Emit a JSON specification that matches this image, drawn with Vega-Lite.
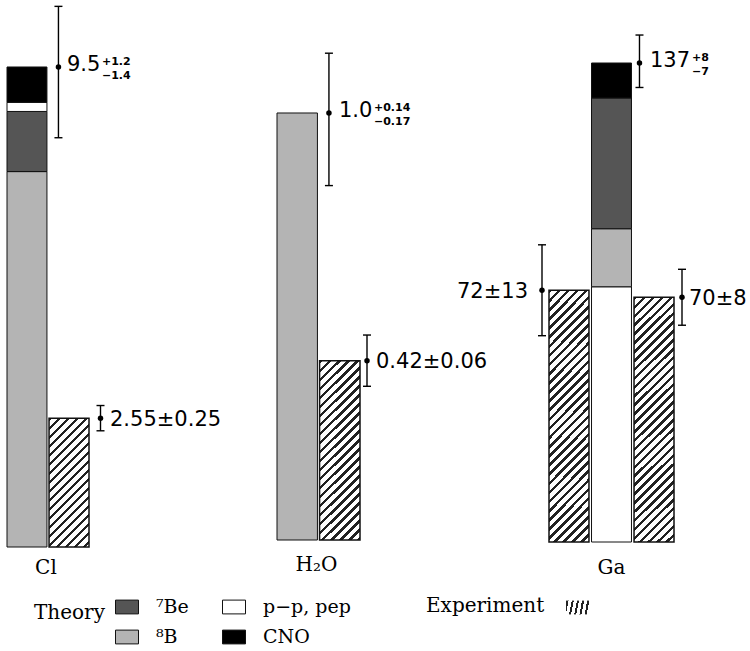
{
  "$schema": "https://vega.github.io/schema/vega-lite/v6.json",
  "padding": 0,
  "spacing": 0,
  "bounds": "flush",
  "background": "white",
  "config": {
    "view": {"stroke": null},
    "axis": {"disable": true},
    "style": {
      "num": {"font": "DejaVu Sans", "fontSize": 21, "align": "left", "baseline": "middle", "color": "#000"},
      "sup": {"font": "DejaVu Sans", "fontSize": 11, "fontWeight": "bold", "align": "left", "baseline": "alphabetic", "color": "#000"},
      "grp": {"font": "DejaVu Serif", "fontSize": 20, "align": "center", "baseline": "middle", "color": "#000"}
    }
  },
  "datasets": {
    "stack": [
      {"group": "Cl", "column": "Theory", "source": "⁸B", "snu": 7.43, "stack": 1},
      {"group": "Cl", "column": "Theory", "source": "⁷Be", "snu": 1.19, "stack": 2},
      {"group": "Cl", "column": "Theory", "source": "p−p, pep", "snu": 0.18, "stack": 3},
      {"group": "Cl", "column": "Theory", "source": "CNO", "snu": 0.7, "stack": 4},
      {"group": "H₂O", "column": "Theory", "source": "⁸B", "snu": 1.0, "stack": 1},
      {"group": "Ga", "column": "Theory", "source": "p−p, pep", "snu": 73.0, "stack": 1},
      {"group": "Ga", "column": "Theory", "source": "⁸B", "snu": 16.6, "stack": 2},
      {"group": "Ga", "column": "Theory", "source": "⁷Be", "snu": 37.4, "stack": 3},
      {"group": "Ga", "column": "Theory", "source": "CNO", "snu": 10.0, "stack": 4}
    ],
    "points": [
      {"group": "Cl", "column": "Theory", "kind": "Theory", "value": 9.5, "lo": 8.1, "hi": 10.7, "label": "9.5", "up": "+1.2", "down": "−1.4"},
      {"group": "Cl", "column": "Homestake", "kind": "Experiment", "value": 2.55, "lo": 2.3, "hi": 2.8, "label": "2.55±0.25"},
      {"group": "H₂O", "column": "Theory", "kind": "Theory", "value": 1.0, "lo": 0.83, "hi": 1.14, "label": "1.0", "up": "+0.14", "down": "−0.17"},
      {"group": "H₂O", "column": "Kamiokande", "kind": "Experiment", "value": 0.42, "lo": 0.36, "hi": 0.48, "label": "0.42±0.06"},
      {"group": "Ga", "column": "Theory", "kind": "Theory", "value": 137, "lo": 130, "hi": 145, "label": "137", "up": "+8", "down": "−7"},
      {"group": "Ga", "column": "GALLEX", "kind": "Experiment", "value": 72, "lo": 59, "hi": 85, "label": "72±13"},
      {"group": "Ga", "column": "SAGE", "kind": "Experiment", "value": 70, "lo": 62, "hi": 78, "label": "70±8"}
    ]
  },
  "resolve": {
    "scale": {"x": "independent", "y": "independent", "fill": "shared", "opacity": "shared"},
    "legend": {"fill": "shared", "opacity": "shared"}
  },
  "hconcat": [
    {
      "width": 250,
      "height": 547,
      "layer": [
        {
          "data": {"name": "stack"},
          "transform": [{"filter": "datum.group==='Cl'"}],
          "mark": {"type": "bar", "stroke": "#111", "strokeWidth": 1},
          "encoding": {
            "x": {"field": "column", "type": "nominal", "axis": null, "scale": {"domain": ["Theory", "Homestake"], "range": [7, 89], "paddingInner": 0.05, "paddingOuter": 0}},
            "y": {"field": "snu", "type": "quantitative", "stack": "zero", "axis": null, "scale": {"domain": [0, 10.826], "range": [547, 0], "nice": false}},
            "fill": {
              "field": "source", "type": "nominal",
              "scale": {"domain": ["⁷Be", "p−p, pep", "⁸B", "CNO"], "range": ["#555555", "#ffffff", "#b4b4b4", "#000000"]},
              "legend": {
                "title": "Theory", "orient": "none", "legendX": 34, "legendY": 595,
                "direction": "horizontal", "columns": 2, "titleOrient": "left", "titleAnchor": "start", "titleBaseline": "line-top", "titleLineHeight": 36,
                "titleFont": "DejaVu Serif", "titleFontSize": 20, "titleFontWeight": "normal", "titleColor": "#000", "titlePadding": 10,
                "labelFont": "DejaVu Serif", "labelFontSize": 19, "labelColor": "#000", "labelOffset": 17,
                "symbolType": "M-1,-0.6H1V0.6H-1Z", "symbolSize": 529, "symbolStrokeColor": "#111", "symbolStrokeWidth": 1, "symbolOpacity": 1,
                "columnPadding": 31, "rowPadding": 8
              }
            },
            "order": {"field": "stack", "type": "quantitative"}
          }
        },
        {
          "data": {"name": "points"},
          "transform": [{"filter": "datum.group==='Cl' && datum.kind==='Experiment'"}],
          "mark": {"type": "bar", "stroke": "#111", "strokeWidth": 1.5,
            "fill": {"gradient": "linear", "x1": 0, "y1": 0, "x2": 0.653, "y2": 2.103, "stops": [
{"offset":0,"color":"#222"},{"offset":0.0121,"color":"#222"},{"offset":0.0121,"color":"#fff"},
{"offset":0.0303,"color":"#fff"},{"offset":0.0303,"color":"#222"},{"offset":0.0424,"color":"#222"},{"offset":0.0424,"color":"#fff"},
{"offset":0.0606,"color":"#fff"},{"offset":0.0606,"color":"#222"},{"offset":0.0727,"color":"#222"},{"offset":0.0727,"color":"#fff"},
{"offset":0.0909,"color":"#fff"},{"offset":0.0909,"color":"#222"},{"offset":0.103,"color":"#222"},{"offset":0.103,"color":"#fff"},
{"offset":0.1212,"color":"#fff"},{"offset":0.1212,"color":"#222"},{"offset":0.1333,"color":"#222"},{"offset":0.1333,"color":"#fff"},
{"offset":0.1515,"color":"#fff"},{"offset":0.1515,"color":"#222"},{"offset":0.1636,"color":"#222"},{"offset":0.1636,"color":"#fff"},
{"offset":0.1818,"color":"#fff"},{"offset":0.1818,"color":"#222"},{"offset":0.1939,"color":"#222"},{"offset":0.1939,"color":"#fff"},
{"offset":0.2121,"color":"#fff"},{"offset":0.2121,"color":"#222"},{"offset":0.2242,"color":"#222"},{"offset":0.2242,"color":"#fff"},
{"offset":0.2424,"color":"#fff"},{"offset":0.2424,"color":"#222"},{"offset":0.2545,"color":"#222"},{"offset":0.2545,"color":"#fff"},
{"offset":0.2727,"color":"#fff"},{"offset":0.2727,"color":"#222"},{"offset":0.2848,"color":"#222"},{"offset":0.2848,"color":"#fff"},
{"offset":0.303,"color":"#fff"},{"offset":0.303,"color":"#222"},{"offset":0.3151,"color":"#222"},{"offset":0.3151,"color":"#fff"},
{"offset":0.3333,"color":"#fff"},{"offset":0.3333,"color":"#222"},{"offset":0.3454,"color":"#222"},{"offset":0.3454,"color":"#fff"},
{"offset":0.3636,"color":"#fff"},{"offset":0.3636,"color":"#222"},{"offset":0.3757,"color":"#222"},{"offset":0.3757,"color":"#fff"},
{"offset":0.3939,"color":"#fff"},{"offset":0.3939,"color":"#222"},{"offset":0.406,"color":"#222"},{"offset":0.406,"color":"#fff"},
{"offset":0.4242,"color":"#fff"},{"offset":0.4242,"color":"#222"},{"offset":0.4363,"color":"#222"},{"offset":0.4363,"color":"#fff"},
{"offset":0.4545,"color":"#fff"},{"offset":0.4545,"color":"#222"},{"offset":0.4666,"color":"#222"},{"offset":0.4666,"color":"#fff"},
{"offset":0.4848,"color":"#fff"},{"offset":0.4848,"color":"#222"},{"offset":0.4969,"color":"#222"},{"offset":0.4969,"color":"#fff"},
{"offset":0.5152,"color":"#fff"},{"offset":0.5152,"color":"#222"},{"offset":0.5273,"color":"#222"},{"offset":0.5273,"color":"#fff"},
{"offset":0.5455,"color":"#fff"},{"offset":0.5455,"color":"#222"},{"offset":0.5576,"color":"#222"},{"offset":0.5576,"color":"#fff"},
{"offset":0.5758,"color":"#fff"},{"offset":0.5758,"color":"#222"},{"offset":0.5879,"color":"#222"},{"offset":0.5879,"color":"#fff"}
            ]}},
          "encoding": {
            "x": {"field": "column", "type": "nominal"},
            "y": {"field": "value", "type": "quantitative"},
            "opacity": {
              "field": "kind", "type": "nominal",
              "scale": {"domain": ["Experiment"], "range": [1, 1]},
              "legend": {
                "title": "Experiment", "orient": "none", "legendX": 426, "legendY": 595,
                "titleOrient": "left", "titleFont": "DejaVu Serif", "titleFontSize": 20, "titleFontWeight": "normal", "titleColor": "#000", "titlePadding": 20,
                "labelExpr": "''", "labelOffset": 0,
                "symbolType": "M-1,-0.6H1V0.6H-1Z", "symbolSize": 529, "symbolStrokeColor": "#111", "symbolStrokeWidth": 1.5, "symbolFillColor": "#888", "symbolOpacity": 1,
                "encode": {"symbols": {
                  "stroke": {"value": "#111"},
                  "strokeWidth": {"value": 1.5},
                  "fill": {"value": {"gradient": "linear", "x1": 0, "y1": 0, "x2": 9.495, "y2": 5.697, "stops": [
{"offset":0,"color":"#222"},{"offset":0.0121,"color":"#222"},{"offset":0.0121,"color":"#fff"},
{"offset":0.0303,"color":"#fff"},{"offset":0.0303,"color":"#222"},{"offset":0.0424,"color":"#222"},{"offset":0.0424,"color":"#fff"},
{"offset":0.0606,"color":"#fff"},{"offset":0.0606,"color":"#222"},{"offset":0.0727,"color":"#222"},{"offset":0.0727,"color":"#fff"},
{"offset":0.0909,"color":"#fff"},{"offset":0.0909,"color":"#222"},{"offset":0.103,"color":"#222"},{"offset":0.103,"color":"#fff"},
{"offset":0.1212,"color":"#fff"},{"offset":0.1212,"color":"#222"},{"offset":0.1333,"color":"#222"},{"offset":0.1333,"color":"#fff"}
                ]}}}}
              }
            }
          }
        },
        {
          "data": {"name": "points"},
          "transform": [{"filter": "datum.group==='Cl'"}],
          "mark": {"type": "rule", "color": "#000", "strokeWidth": 1.4, "xOffset": 11.5},
          "encoding": {"x": {"field": "column", "type": "nominal", "bandPosition": 1}, "y": {"field": "lo", "type": "quantitative"}, "y2": {"field": "hi"}}
        },
        {
          "data": {"name": "points"},
          "transform": [{"filter": "datum.group==='Cl'"}, {"fold": ["lo", "hi"], "as": ["end", "cap"]}],
          "mark": {"type": "point", "shape": "M-1,0H1", "size": 64, "filled": false, "color": "#000", "strokeWidth": 1.4, "opacity": 1, "xOffset": 11.5},
          "encoding": {"x": {"field": "column", "type": "nominal", "bandPosition": 1}, "y": {"field": "cap", "type": "quantitative"}}
        },
        {
          "data": {"name": "points"},
          "transform": [{"filter": "datum.group==='Cl'"}],
          "mark": {"type": "point", "shape": "circle", "size": 30, "filled": true, "color": "#000", "opacity": 1, "xOffset": 11.5},
          "encoding": {"x": {"field": "column", "type": "nominal", "bandPosition": 1}, "y": {"field": "value", "type": "quantitative"}}
        },
        {
          "data": {"name": "points"},
          "transform": [{"filter": "datum.group==='Cl' && datum.kind==='Theory'"}],
          "mark": {"type": "text", "style": "num", "xOffset": 20, "dy": -2},
          "encoding": {"x": {"field": "column", "type": "nominal", "bandPosition": 1}, "y": {"field": "value", "type": "quantitative"}, "text": {"field": "label", "type": "nominal"}}
        },
        {
          "data": {"name": "points"},
          "transform": [{"filter": "datum.group==='Cl' && datum.kind==='Experiment'"}],
          "mark": {"type": "text", "style": "num", "xOffset": 21, "dy": 1.5},
          "encoding": {"x": {"field": "column", "type": "nominal", "bandPosition": 1}, "y": {"field": "value", "type": "quantitative"}, "text": {"field": "label", "type": "nominal"}}
        },
        {
          "data": {"name": "points"},
          "transform": [{"filter": "datum.group==='Cl' && datum.kind==='Theory'"}],
          "mark": {"type": "text", "style": "sup", "xOffset": 55, "dy": -2},
          "encoding": {"x": {"field": "column", "type": "nominal", "bandPosition": 1}, "y": {"field": "value", "type": "quantitative"}, "text": {"field": "up", "type": "nominal"}}
        },
        {
          "data": {"name": "points"},
          "transform": [{"filter": "datum.group==='Cl' && datum.kind==='Theory'"}],
          "mark": {"type": "text", "style": "sup", "xOffset": 55, "dy": 12},
          "encoding": {"x": {"field": "column", "type": "nominal", "bandPosition": 1}, "y": {"field": "value", "type": "quantitative"}, "text": {"field": "down", "type": "nominal"}}
        },
        {
          "data": {"name": "points"},
          "transform": [{"filter": "datum.group==='Cl' && datum.kind==='Theory'"}],
          "mark": {"type": "text", "style": "grp", "xOffset": -1, "dy": 21},
          "encoding": {"x": {"field": "column", "type": "nominal", "bandPosition": 1}, "y": {"datum": 0, "type": "quantitative"}, "text": {"field": "group", "type": "nominal"}}
        }
      ]
    },
    {
      "width": 270,
      "height": 547,
      "layer": [
        {
          "data": {"name": "stack"},
          "transform": [{"filter": "datum.group==='H₂O'"}],
          "mark": {"type": "bar", "stroke": "#111", "strokeWidth": 1},
          "encoding": {
            "x": {"field": "column", "type": "nominal", "axis": null, "scale": {"domain": ["Theory", "Kamiokande"], "range": [27, 110], "paddingInner": 0.05, "paddingOuter": 0}},
            "y": {"field": "snu", "type": "quantitative", "stack": "zero", "axis": null, "scale": {"domain": [0, 1.2646], "range": [540, 0], "nice": false}},
            "fill": {"field": "source", "type": "nominal", "legend": null},
            "order": {"field": "stack", "type": "quantitative"}
          }
        },
        {
          "data": {"name": "points"},
          "transform": [{"filter": "datum.group==='H₂O' && datum.kind==='Experiment'"}],
          "mark": {"type": "bar", "stroke": "#111", "strokeWidth": 1.5,
            "fill": {"gradient": "linear", "x1": 0, "y1": 0, "x2": 0.352, "y2": 1.578, "stops": [
{"offset":0,"color":"#222"},{"offset":0.0121,"color":"#222"},{"offset":0.0121,"color":"#fff"},
{"offset":0.0303,"color":"#fff"},{"offset":0.0303,"color":"#222"},{"offset":0.0424,"color":"#222"},{"offset":0.0424,"color":"#fff"},
{"offset":0.0606,"color":"#fff"},{"offset":0.0606,"color":"#222"},{"offset":0.0727,"color":"#222"},{"offset":0.0727,"color":"#fff"},
{"offset":0.0909,"color":"#fff"},{"offset":0.0909,"color":"#222"},{"offset":0.103,"color":"#222"},{"offset":0.103,"color":"#fff"},
{"offset":0.1212,"color":"#fff"},{"offset":0.1212,"color":"#222"},{"offset":0.1333,"color":"#222"},{"offset":0.1333,"color":"#fff"},
{"offset":0.1515,"color":"#fff"},{"offset":0.1515,"color":"#222"},{"offset":0.1636,"color":"#222"},{"offset":0.1636,"color":"#fff"},
{"offset":0.1818,"color":"#fff"},{"offset":0.1818,"color":"#222"},{"offset":0.1939,"color":"#222"},{"offset":0.1939,"color":"#fff"},
{"offset":0.2121,"color":"#fff"},{"offset":0.2121,"color":"#222"},{"offset":0.2242,"color":"#222"},{"offset":0.2242,"color":"#fff"},
{"offset":0.2424,"color":"#fff"},{"offset":0.2424,"color":"#222"},{"offset":0.2545,"color":"#222"},{"offset":0.2545,"color":"#fff"},
{"offset":0.2727,"color":"#fff"},{"offset":0.2727,"color":"#222"},{"offset":0.2848,"color":"#222"},{"offset":0.2848,"color":"#fff"},
{"offset":0.303,"color":"#fff"},{"offset":0.303,"color":"#222"},{"offset":0.3151,"color":"#222"},{"offset":0.3151,"color":"#fff"},
{"offset":0.3333,"color":"#fff"},{"offset":0.3333,"color":"#222"},{"offset":0.3454,"color":"#222"},{"offset":0.3454,"color":"#fff"},
{"offset":0.3636,"color":"#fff"},{"offset":0.3636,"color":"#222"},{"offset":0.3757,"color":"#222"},{"offset":0.3757,"color":"#fff"},
{"offset":0.3939,"color":"#fff"},{"offset":0.3939,"color":"#222"},{"offset":0.406,"color":"#222"},{"offset":0.406,"color":"#fff"},
{"offset":0.4242,"color":"#fff"},{"offset":0.4242,"color":"#222"},{"offset":0.4363,"color":"#222"},{"offset":0.4363,"color":"#fff"},
{"offset":0.4545,"color":"#fff"},{"offset":0.4545,"color":"#222"},{"offset":0.4666,"color":"#222"},{"offset":0.4666,"color":"#fff"},
{"offset":0.4848,"color":"#fff"},{"offset":0.4848,"color":"#222"},{"offset":0.4969,"color":"#222"},{"offset":0.4969,"color":"#fff"},
{"offset":0.5152,"color":"#fff"},{"offset":0.5152,"color":"#222"},{"offset":0.5273,"color":"#222"},{"offset":0.5273,"color":"#fff"},
{"offset":0.5455,"color":"#fff"},{"offset":0.5455,"color":"#222"},{"offset":0.5576,"color":"#222"},{"offset":0.5576,"color":"#fff"},
{"offset":0.5758,"color":"#fff"},{"offset":0.5758,"color":"#222"},{"offset":0.5879,"color":"#222"},{"offset":0.5879,"color":"#fff"},
{"offset":0.6061,"color":"#fff"},{"offset":0.6061,"color":"#222"},{"offset":0.6182,"color":"#222"},{"offset":0.6182,"color":"#fff"},
{"offset":0.6364,"color":"#fff"},{"offset":0.6364,"color":"#222"},{"offset":0.6485,"color":"#222"},{"offset":0.6485,"color":"#fff"},
{"offset":0.6667,"color":"#fff"},{"offset":0.6667,"color":"#222"},{"offset":0.6788,"color":"#222"},{"offset":0.6788,"color":"#fff"},
{"offset":0.697,"color":"#fff"},{"offset":0.697,"color":"#222"},{"offset":0.7091,"color":"#222"},{"offset":0.7091,"color":"#fff"},
{"offset":0.7273,"color":"#fff"},{"offset":0.7273,"color":"#222"},{"offset":0.7394,"color":"#222"},{"offset":0.7394,"color":"#fff"},
{"offset":0.7576,"color":"#fff"},{"offset":0.7576,"color":"#222"},{"offset":0.7697,"color":"#222"},{"offset":0.7697,"color":"#fff"}
            ]}},
          "encoding": {
            "x": {"field": "column", "type": "nominal"},
            "y": {"field": "value", "type": "quantitative"},
            "opacity": {"field": "kind", "type": "nominal", "legend": null}
          }
        },
        {
          "data": {"name": "points"},
          "transform": [{"filter": "datum.group==='H₂O' && datum.kind==='Theory'"}],
          "mark": {"type": "rule", "color": "#000", "strokeWidth": 1.4, "xOffset": 11.5},
          "encoding": {"x": {"field": "column", "type": "nominal", "bandPosition": 1}, "y": {"field": "lo", "type": "quantitative"}, "y2": {"field": "hi"}}
        },
        {
          "data": {"name": "points"},
          "transform": [{"filter": "datum.group==='H₂O' && datum.kind==='Theory'"}, {"fold": ["lo", "hi"], "as": ["end", "cap"]}],
          "mark": {"type": "point", "shape": "M-1,0H1", "size": 64, "filled": false, "color": "#000", "strokeWidth": 1.4, "opacity": 1, "xOffset": 11.5},
          "encoding": {"x": {"field": "column", "type": "nominal", "bandPosition": 1}, "y": {"field": "cap", "type": "quantitative"}}
        },
        {
          "data": {"name": "points"},
          "transform": [{"filter": "datum.group==='H₂O' && datum.kind==='Theory'"}],
          "mark": {"type": "point", "shape": "circle", "size": 30, "filled": true, "color": "#000", "opacity": 1, "xOffset": 11.5},
          "encoding": {"x": {"field": "column", "type": "nominal", "bandPosition": 1}, "y": {"field": "value", "type": "quantitative"}}
        },
        {
          "data": {"name": "points"},
          "transform": [{"filter": "datum.group==='H₂O' && datum.kind==='Experiment'"}],
          "mark": {"type": "rule", "color": "#000", "strokeWidth": 1.4, "xOffset": 7},
          "encoding": {"x": {"field": "column", "type": "nominal", "bandPosition": 1}, "y": {"field": "lo", "type": "quantitative"}, "y2": {"field": "hi"}}
        },
        {
          "data": {"name": "points"},
          "transform": [{"filter": "datum.group==='H₂O' && datum.kind==='Experiment'"}, {"fold": ["lo", "hi"], "as": ["end", "cap"]}],
          "mark": {"type": "point", "shape": "M-1,0H1", "size": 64, "filled": false, "color": "#000", "strokeWidth": 1.4, "opacity": 1, "xOffset": 7},
          "encoding": {"x": {"field": "column", "type": "nominal", "bandPosition": 1}, "y": {"field": "cap", "type": "quantitative"}}
        },
        {
          "data": {"name": "points"},
          "transform": [{"filter": "datum.group==='H₂O' && datum.kind==='Experiment'"}],
          "mark": {"type": "point", "shape": "circle", "size": 30, "filled": true, "color": "#000", "opacity": 1, "xOffset": 7},
          "encoding": {"x": {"field": "column", "type": "nominal", "bandPosition": 1}, "y": {"field": "value", "type": "quantitative"}}
        },
        {
          "data": {"name": "points"},
          "transform": [{"filter": "datum.group==='H₂O' && datum.kind==='Theory'"}],
          "mark": {"type": "text", "style": "num", "xOffset": 21.5, "dy": -2},
          "encoding": {"x": {"field": "column", "type": "nominal", "bandPosition": 1}, "y": {"field": "value", "type": "quantitative"}, "text": {"field": "label", "type": "nominal"}}
        },
        {
          "data": {"name": "points"},
          "transform": [{"filter": "datum.group==='H₂O' && datum.kind==='Experiment'"}],
          "mark": {"type": "text", "style": "num", "xOffset": 16, "dy": 1.5},
          "encoding": {"x": {"field": "column", "type": "nominal", "bandPosition": 1}, "y": {"field": "value", "type": "quantitative"}, "text": {"field": "label", "type": "nominal"}}
        },
        {
          "data": {"name": "points"},
          "transform": [{"filter": "datum.group==='H₂O' && datum.kind==='Theory'"}],
          "mark": {"type": "text", "style": "sup", "xOffset": 56.5, "dy": -2},
          "encoding": {"x": {"field": "column", "type": "nominal", "bandPosition": 1}, "y": {"field": "value", "type": "quantitative"}, "text": {"field": "up", "type": "nominal"}}
        },
        {
          "data": {"name": "points"},
          "transform": [{"filter": "datum.group==='H₂O' && datum.kind==='Theory'"}],
          "mark": {"type": "text", "style": "sup", "xOffset": 56.5, "dy": 12},
          "encoding": {"x": {"field": "column", "type": "nominal", "bandPosition": 1}, "y": {"field": "value", "type": "quantitative"}, "text": {"field": "down", "type": "nominal"}}
        },
        {
          "data": {"name": "points"},
          "transform": [{"filter": "datum.group==='H₂O' && datum.kind==='Theory'"}],
          "mark": {"type": "text", "style": "grp", "xOffset": -1, "dy": 25},
          "encoding": {"x": {"field": "column", "type": "nominal", "bandPosition": 1}, "y": {"datum": 0, "type": "quantitative"}, "text": {"field": "group", "type": "nominal"}}
        }
      ]
    },
    {
      "width": 230,
      "height": 547,
      "layer": [
        {
          "data": {"name": "stack"},
          "transform": [{"filter": "datum.group==='Ga'"}],
          "mark": {"type": "bar", "stroke": "#111", "strokeWidth": 1},
          "encoding": {
            "x": {"field": "column", "type": "nominal", "axis": null, "scale": {"domain": ["GALLEX", "Theory", "SAGE"], "range": [29, 154], "paddingInner": 0.06, "paddingOuter": 0}},
            "y": {"field": "snu", "type": "quantitative", "stack": "zero", "axis": null, "scale": {"domain": [0, 155.02], "range": [542, 0], "nice": false}},
            "fill": {"field": "source", "type": "nominal", "legend": null},
            "order": {"field": "stack", "type": "quantitative"}
          }
        },
        {
          "data": {"name": "points"},
          "transform": [{"filter": "datum.group==='Ga' && datum.kind==='Experiment'"}],
          "mark": {"type": "bar", "stroke": "#111", "strokeWidth": 1.5,
            "fill": {"gradient": "linear", "x1": 0, "y1": 0, "x2": 0.1883, "y2": 1.167, "stops": [
{"offset":0,"color":"#222"},{"offset":0.0121,"color":"#222"},{"offset":0.0121,"color":"#fff"},
{"offset":0.0303,"color":"#fff"},{"offset":0.0303,"color":"#222"},{"offset":0.0424,"color":"#222"},{"offset":0.0424,"color":"#fff"},
{"offset":0.0606,"color":"#fff"},{"offset":0.0606,"color":"#222"},{"offset":0.0727,"color":"#222"},{"offset":0.0727,"color":"#fff"},
{"offset":0.0909,"color":"#fff"},{"offset":0.0909,"color":"#222"},{"offset":0.103,"color":"#222"},{"offset":0.103,"color":"#fff"},
{"offset":0.1212,"color":"#fff"},{"offset":0.1212,"color":"#222"},{"offset":0.1333,"color":"#222"},{"offset":0.1333,"color":"#fff"},
{"offset":0.1515,"color":"#fff"},{"offset":0.1515,"color":"#222"},{"offset":0.1636,"color":"#222"},{"offset":0.1636,"color":"#fff"},
{"offset":0.1818,"color":"#fff"},{"offset":0.1818,"color":"#222"},{"offset":0.1939,"color":"#222"},{"offset":0.1939,"color":"#fff"},
{"offset":0.2121,"color":"#fff"},{"offset":0.2121,"color":"#222"},{"offset":0.2242,"color":"#222"},{"offset":0.2242,"color":"#fff"},
{"offset":0.2424,"color":"#fff"},{"offset":0.2424,"color":"#222"},{"offset":0.2545,"color":"#222"},{"offset":0.2545,"color":"#fff"},
{"offset":0.2727,"color":"#fff"},{"offset":0.2727,"color":"#222"},{"offset":0.2848,"color":"#222"},{"offset":0.2848,"color":"#fff"},
{"offset":0.303,"color":"#fff"},{"offset":0.303,"color":"#222"},{"offset":0.3151,"color":"#222"},{"offset":0.3151,"color":"#fff"},
{"offset":0.3333,"color":"#fff"},{"offset":0.3333,"color":"#222"},{"offset":0.3454,"color":"#222"},{"offset":0.3454,"color":"#fff"},
{"offset":0.3636,"color":"#fff"},{"offset":0.3636,"color":"#222"},{"offset":0.3757,"color":"#222"},{"offset":0.3757,"color":"#fff"},
{"offset":0.3939,"color":"#fff"},{"offset":0.3939,"color":"#222"},{"offset":0.406,"color":"#222"},{"offset":0.406,"color":"#fff"},
{"offset":0.4242,"color":"#fff"},{"offset":0.4242,"color":"#222"},{"offset":0.4363,"color":"#222"},{"offset":0.4363,"color":"#fff"},
{"offset":0.4545,"color":"#fff"},{"offset":0.4545,"color":"#222"},{"offset":0.4666,"color":"#222"},{"offset":0.4666,"color":"#fff"},
{"offset":0.4848,"color":"#fff"},{"offset":0.4848,"color":"#222"},{"offset":0.4969,"color":"#222"},{"offset":0.4969,"color":"#fff"},
{"offset":0.5152,"color":"#fff"},{"offset":0.5152,"color":"#222"},{"offset":0.5273,"color":"#222"},{"offset":0.5273,"color":"#fff"},
{"offset":0.5455,"color":"#fff"},{"offset":0.5455,"color":"#222"},{"offset":0.5576,"color":"#222"},{"offset":0.5576,"color":"#fff"},
{"offset":0.5758,"color":"#fff"},{"offset":0.5758,"color":"#222"},{"offset":0.5879,"color":"#222"},{"offset":0.5879,"color":"#fff"},
{"offset":0.6061,"color":"#fff"},{"offset":0.6061,"color":"#222"},{"offset":0.6182,"color":"#222"},{"offset":0.6182,"color":"#fff"},
{"offset":0.6364,"color":"#fff"},{"offset":0.6364,"color":"#222"},{"offset":0.6485,"color":"#222"},{"offset":0.6485,"color":"#fff"},
{"offset":0.6667,"color":"#fff"},{"offset":0.6667,"color":"#222"},{"offset":0.6788,"color":"#222"},{"offset":0.6788,"color":"#fff"},
{"offset":0.697,"color":"#fff"},{"offset":0.697,"color":"#222"},{"offset":0.7091,"color":"#222"},{"offset":0.7091,"color":"#fff"},
{"offset":0.7273,"color":"#fff"},{"offset":0.7273,"color":"#222"},{"offset":0.7394,"color":"#222"},{"offset":0.7394,"color":"#fff"},
{"offset":0.7576,"color":"#fff"},{"offset":0.7576,"color":"#222"},{"offset":0.7697,"color":"#222"},{"offset":0.7697,"color":"#fff"},
{"offset":0.7879,"color":"#fff"},{"offset":0.7879,"color":"#222"},{"offset":0.8,"color":"#222"},{"offset":0.8,"color":"#fff"},
{"offset":0.8182,"color":"#fff"},{"offset":0.8182,"color":"#222"},{"offset":0.8303,"color":"#222"},{"offset":0.8303,"color":"#fff"},
{"offset":0.8485,"color":"#fff"},{"offset":0.8485,"color":"#222"},{"offset":0.8606,"color":"#222"},{"offset":0.8606,"color":"#fff"},
{"offset":0.8788,"color":"#fff"},{"offset":0.8788,"color":"#222"},{"offset":0.8909,"color":"#222"},{"offset":0.8909,"color":"#fff"},
{"offset":0.9091,"color":"#fff"},{"offset":0.9091,"color":"#222"},{"offset":0.9212,"color":"#222"},{"offset":0.9212,"color":"#fff"},
{"offset":0.9394,"color":"#fff"},{"offset":0.9394,"color":"#222"},{"offset":0.9515,"color":"#222"},{"offset":0.9515,"color":"#fff"},
{"offset":0.9697,"color":"#fff"},{"offset":0.9697,"color":"#222"},{"offset":0.9818,"color":"#222"},{"offset":0.9818,"color":"#fff"}
            ]}},
          "encoding": {
            "x": {"field": "column", "type": "nominal"},
            "y": {"field": "value", "type": "quantitative"},
            "opacity": {"field": "kind", "type": "nominal", "legend": null}
          }
        },
        {
          "data": {"name": "points"},
          "transform": [{"filter": "datum.group==='Ga' && datum.column!=='GALLEX'"}],
          "mark": {"type": "rule", "color": "#000", "strokeWidth": 1.4, "xOffset": 8},
          "encoding": {"x": {"field": "column", "type": "nominal", "bandPosition": 1}, "y": {"field": "lo", "type": "quantitative"}, "y2": {"field": "hi"}}
        },
        {
          "data": {"name": "points"},
          "transform": [{"filter": "datum.group==='Ga' && datum.column!=='GALLEX'"}, {"fold": ["lo", "hi"], "as": ["end", "cap"]}],
          "mark": {"type": "point", "shape": "M-1,0H1", "size": 64, "filled": false, "color": "#000", "strokeWidth": 1.4, "opacity": 1, "xOffset": 8},
          "encoding": {"x": {"field": "column", "type": "nominal", "bandPosition": 1}, "y": {"field": "cap", "type": "quantitative"}}
        },
        {
          "data": {"name": "points"},
          "transform": [{"filter": "datum.group==='Ga' && datum.column!=='GALLEX'"}],
          "mark": {"type": "point", "shape": "circle", "size": 30, "filled": true, "color": "#000", "opacity": 1, "xOffset": 8},
          "encoding": {"x": {"field": "column", "type": "nominal", "bandPosition": 1}, "y": {"field": "value", "type": "quantitative"}}
        },
        {
          "data": {"name": "points"},
          "transform": [{"filter": "datum.column==='GALLEX'"}],
          "mark": {"type": "rule", "color": "#000", "strokeWidth": 1.4, "xOffset": -7},
          "encoding": {"x": {"field": "column", "type": "nominal", "bandPosition": 0}, "y": {"field": "lo", "type": "quantitative"}, "y2": {"field": "hi"}}
        },
        {
          "data": {"name": "points"},
          "transform": [{"filter": "datum.column==='GALLEX'"}, {"fold": ["lo", "hi"], "as": ["end", "cap"]}],
          "mark": {"type": "point", "shape": "M-1,0H1", "size": 64, "filled": false, "color": "#000", "strokeWidth": 1.4, "opacity": 1, "xOffset": -7},
          "encoding": {"x": {"field": "column", "type": "nominal", "bandPosition": 0}, "y": {"field": "cap", "type": "quantitative"}}
        },
        {
          "data": {"name": "points"},
          "transform": [{"filter": "datum.column==='GALLEX'"}],
          "mark": {"type": "point", "shape": "circle", "size": 30, "filled": true, "color": "#000", "opacity": 1, "xOffset": -7},
          "encoding": {"x": {"field": "column", "type": "nominal", "bandPosition": 0}, "y": {"field": "value", "type": "quantitative"}}
        },
        {
          "data": {"name": "points"},
          "transform": [{"filter": "datum.group==='Ga' && datum.kind==='Theory'"}],
          "mark": {"type": "text", "style": "num", "xOffset": 18.5, "dy": -2},
          "encoding": {"x": {"field": "column", "type": "nominal", "bandPosition": 1}, "y": {"field": "value", "type": "quantitative"}, "text": {"field": "label", "type": "nominal"}}
        },
        {
          "data": {"name": "points"},
          "transform": [{"filter": "datum.column==='SAGE'"}],
          "mark": {"type": "text", "style": "num", "xOffset": 15, "dy": 1.5},
          "encoding": {"x": {"field": "column", "type": "nominal", "bandPosition": 1}, "y": {"field": "value", "type": "quantitative"}, "text": {"field": "label", "type": "nominal"}}
        },
        {
          "data": {"name": "points"},
          "transform": [{"filter": "datum.column==='GALLEX'"}],
          "mark": {"type": "text", "style": "num", "align": "right", "xOffset": -21, "dy": 1.5},
          "encoding": {"x": {"field": "column", "type": "nominal", "bandPosition": 0}, "y": {"field": "value", "type": "quantitative"}, "text": {"field": "label", "type": "nominal"}}
        },
        {
          "data": {"name": "points"},
          "transform": [{"filter": "datum.group==='Ga' && datum.kind==='Theory'"}],
          "mark": {"type": "text", "style": "sup", "xOffset": 60.5, "dy": -2},
          "encoding": {"x": {"field": "column", "type": "nominal", "bandPosition": 1}, "y": {"field": "value", "type": "quantitative"}, "text": {"field": "up", "type": "nominal"}}
        },
        {
          "data": {"name": "points"},
          "transform": [{"filter": "datum.group==='Ga' && datum.kind==='Theory'"}],
          "mark": {"type": "text", "style": "sup", "xOffset": 60.5, "dy": 12},
          "encoding": {"x": {"field": "column", "type": "nominal", "bandPosition": 1}, "y": {"field": "value", "type": "quantitative"}, "text": {"field": "down", "type": "nominal"}}
        },
        {
          "data": {"name": "points"},
          "transform": [{"filter": "datum.group==='Ga' && datum.kind==='Theory'"}],
          "mark": {"type": "text", "style": "grp", "dy": 26},
          "encoding": {"x": {"field": "column", "type": "nominal", "bandPosition": 0.5}, "y": {"datum": 0, "type": "quantitative"}, "text": {"field": "group", "type": "nominal"}}
        }
      ]
    }
  ]
}
